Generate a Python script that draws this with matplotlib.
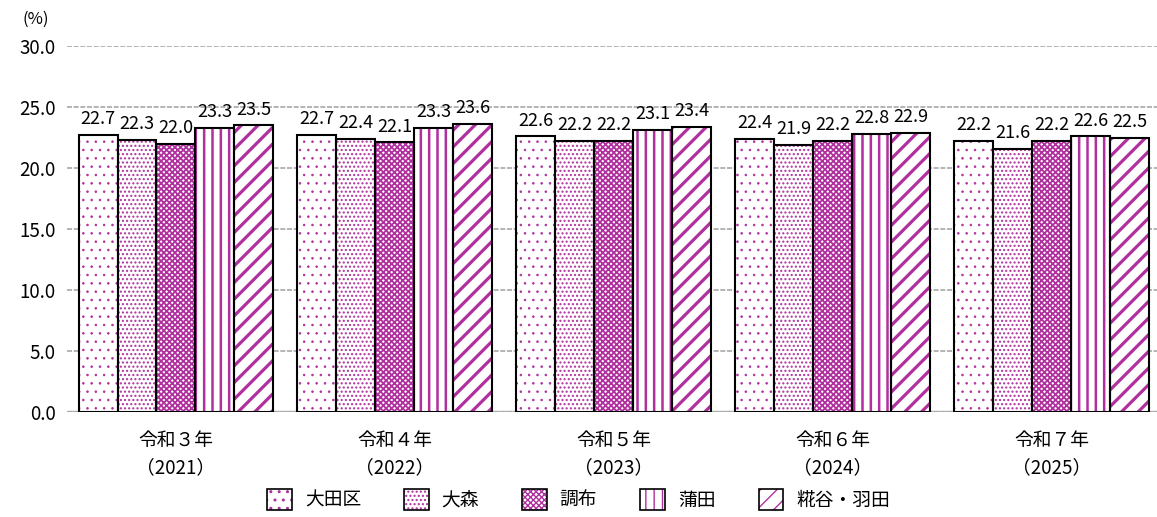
import numpy as np
import matplotlib
matplotlib.use("Agg")
import matplotlib.pyplot as plt
from matplotlib.patches import Patch
from matplotlib.legend_handler import HandlerTuple

plt.rcParams["font.family"] = ["Noto Sans CJK JP", "DejaVu Sans"]

# data
years = ["令和３年\n（2021）", "令和４年\n（2022）", "令和５年\n（2023）",
         "令和６年\n（2024）", "令和７年\n（2025）"]
areas = ["大田区", "大森", "調布", "蒲田", "糀谷・羽田"]
ota = [22.7, 22.7, 22.6, 22.4, 22.2]
omori = [22.3, 22.4, 22.2, 21.9, 21.6]
chofu = [22.0, 22.1, 22.2, 22.2, 22.2]
kamata = [23.3, 23.3, 23.1, 22.8, 22.6]
kojiya = [23.5, 23.6, 23.4, 22.9, 22.5]
series = [ota, omori, chofu, kamata, kojiya]

hatches = ["..", "....", "xxxxxx", "||", "//"]
hatch_lw = [0.6, 1.0, 1.3, 1.8, 2.3]
purple = "#b0309e"

fig = plt.figure(figsize=(11.57, 5.17), dpi=100)
ax = fig.add_axes([0.0575, 0.203, 0.946, 0.708])

x = np.arange(len(years))
w = 0.178
handles = []
for i, (vals, h, hlw) in enumerate(zip(series, hatches, hatch_lw)):
    pos = x + (i - 2) * w
    with plt.rc_context({"hatch.linewidth": hlw}):
        ax.bar(pos, vals, w, color="white", edgecolor=purple, hatch=h,
               linewidth=0, zorder=2)
        hp = Patch(facecolor="white", edgecolor=purple, hatch=h, linewidth=0)
    ax.bar(pos, vals, w, fill=False, edgecolor="black", linewidth=1.5,
           zorder=3)
    for p, v in zip(pos, vals):
        ax.text(p, v + 0.55, "%.1f" % v, ha="center", va="bottom",
                fontsize=13, zorder=4)
    bp = Patch(fill=False, edgecolor="black", linewidth=1.2)
    handles.append((hp, bp))

ax.set_ylim(0, 30)
ax.set_xlim(-0.5, 4.5)
ax.set_yticks(np.arange(0, 31, 5))
ax.set_yticklabels(["%.1f" % t for t in np.arange(0, 31, 5)], fontsize=13.5)
ax.set_xticks(x)
ax.set_xticklabels(years, fontsize=13.5, linespacing=1.35)
ax.tick_params(length=0)
ax.tick_params(axis="x", pad=13)
ax.tick_params(axis="y", pad=8)
for s in ax.spines.values():
    s.set_visible(False)
ax.yaxis.grid(True, color="#a8a8a8", linestyle=(0, (3, 1)), linewidth=1.2,
              zorder=0)
ax.axhline(0, color="#b8b8b8", linewidth=2.5, zorder=1)
fig.text(36 / 1157, 1 - 19 / 517, "(%)", ha="center", va="center",
         fontsize=12)

fig.legend(handles, areas, handler_map={tuple: HandlerTuple(ndivide=1, pad=0)},
           loc="center", bbox_to_anchor=(0.5, 1 - 500 / 517), ncol=5,
           frameon=False, fontsize=13.5, handlelength=1.3, handleheight=1.3,
           columnspacing=2.3, handletextpad=0.7)

fig.savefig("out.png", dpi=100)
